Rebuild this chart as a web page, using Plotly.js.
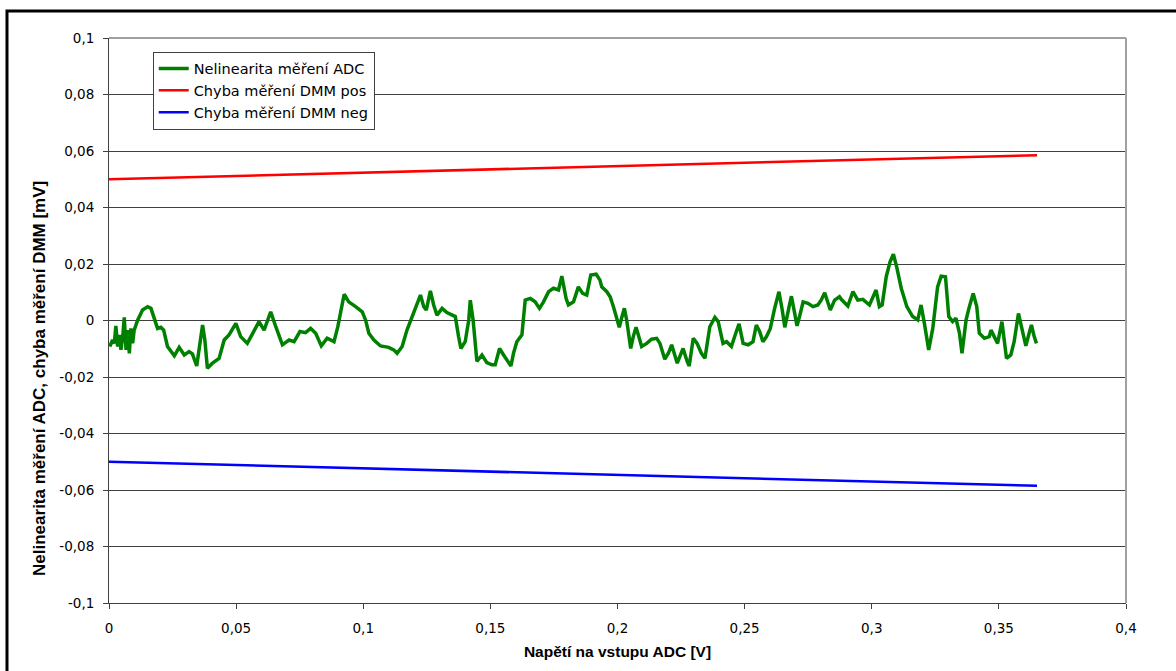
<!DOCTYPE html>
<html>
<head>
<meta charset="utf-8">
<script src="https://cdn.plot.ly/plotly-3.0.1.min.js"></script>
<style>
  html, body { margin: 0; padding: 0; background: #ffffff; }
  #chart { width: 1176px; height: 671px; }
</style>
</head>
<body>
<div id="chart"></div>
<script>
// ---- data ----
const seriesNames = ["Nelinearita měření ADC", "Chyba měření DMM pos", "Chyba měření DMM neg"];

const adcX = [
  0.0003,0.0014,0.0021,0.0027,0.0034,0.0041,0.0047,0.0054,0.0060,0.0067,0.0073,0.0080,0.0086,0.0093,0.0099,0.0113,0.0132,0.0152,0.0165,0.0178,0.0191,0.0204,0.0215,0.0230,0.0257,0.0276,0.0296,0.0315,0.0328,0.0345,0.0361,0.0368,0.0377,0.0387,0.0407,0.0433,0.0453,0.0472,0.0499,0.0518,0.0544,0.0571,0.0590,0.0610,0.0636,0.0656,0.0682,0.0708,0.0728,0.0751,0.0773,0.0793,0.0813,0.0835,0.0858,0.0885,0.0900,0.0925,
  0.0943,0.0970,0.0996,0.1009,0.1022,0.1042,0.1068,0.1100,0.1120,0.1133,0.1153,0.1172,0.1192,0.1212,0.1225,0.1238,0.1248,0.1264,0.1277,0.1290,0.1310,0.1329,0.1349,0.1362,0.1375,0.1384,0.1401,0.1415,0.1421,0.1432,0.1447,0.1467,0.1486,0.1506,0.1519,0.1536,0.1552,0.1565,0.1581,0.1591,0.1604,0.1624,0.1637,0.1657,0.1676,0.1693,0.1709,0.1729,0.1748,0.1768,0.1781,0.1798,0.1807,0.1827,0.1846,0.1863,0.1879,0.1895,0.1916,0.1931,
  0.1938,0.1958,0.1971,0.1984,0.1997,0.2007,0.2016,0.2027,0.2036,0.2052,0.2062,0.2073,0.2082,0.2095,0.2115,0.2134,0.2154,0.2167,0.2186,0.2200,0.2213,0.2226,0.2235,0.2245,0.2258,0.2274,0.2282,0.2298,0.2313,0.2330,0.2344,0.2363,0.2383,0.2396,0.2415,0.2429,0.2448,0.2465,0.2478,0.2494,0.2514,0.2533,0.2546,0.2559,0.2572,0.2586,0.2601,0.2618,0.2635,0.2648,0.2658,0.2675,0.2684,0.2697,0.2706,0.2716,0.2730,0.2749,0.2769,0.2788,0.2801,0.2815,0.2828,0.2837,0.2854,0.2873,
  0.2880,0.2906,0.2926,0.2945,0.2965,0.2991,0.3017,0.3030,0.3041,0.3057,0.3072,0.3085,0.3098,0.3116,0.3138,0.3161,0.3181,0.3194,0.3207,0.3224,0.3240,0.3259,0.3273,0.3290,0.3303,0.3318,0.3331,0.3345,0.3355,0.3371,0.3384,0.3399,0.3413,0.3423,0.3443,0.3462,0.3469,0.3486,0.3495,0.3512,0.3521,0.3530,0.3547,0.3560,0.3577,0.3593,0.3606,0.3619,0.3628,0.3639,0.3648
];
const adcY = [
  -0.0092,-0.0069,-0.0081,-0.0019,-0.0092,-0.0051,-0.0104,-0.0057,0.0011,-0.0104,-0.0034,-0.0116,-0.0028,-0.0081,-0.0034,0.0002,0.0037,0.0049,0.0043,0.0008,-0.0028,-0.0024,-0.0034,-0.0092,-0.0125,-0.0095,-0.0122,-0.0110,-0.0118,-0.0161,-0.0057,-0.0016,-0.0069,-0.0169,-0.0151,-0.0134,-0.0069,-0.0051,-0.0010,-0.0057,-0.0081,-0.0034,-0.0004,-0.0034,0.0031,-0.0022,-0.0086,-0.0069,-0.0075,-0.0039,-0.0043,-0.0028,-0.0045,-0.0090,-0.0063,-0.0075,-0.0022,0.0093,
  0.0066,0.0049,0.0031,0.0002,-0.0045,-0.0069,-0.0090,-0.0095,-0.0104,-0.0116,-0.0092,-0.0034,0.0014,0.0066,0.0090,0.0049,0.0037,0.0105,0.0055,0.0019,0.0043,0.0028,0.0019,0.0014,-0.0057,-0.0099,-0.0075,0.0002,0.0072,0.0002,-0.0145,-0.0122,-0.0149,-0.0157,-0.0157,-0.0099,-0.0122,-0.0142,-0.0161,-0.0116,-0.0075,-0.0051,0.0072,0.0078,0.0066,0.0043,0.0066,0.0102,0.0114,0.0108,0.0157,0.0078,0.0055,0.0066,0.0119,0.0096,0.0090,0.0161,0.0164,0.0143,
  0.0119,0.0102,0.0084,0.0049,0.0008,-0.0024,0.0008,0.0043,0.0002,-0.0099,-0.0057,-0.0024,-0.0051,-0.0092,-0.0081,-0.0066,-0.0063,-0.0081,-0.0137,-0.0116,-0.0086,-0.0122,-0.0151,-0.0128,-0.0099,-0.0145,-0.0161,-0.0063,-0.0081,-0.0116,-0.0134,-0.0022,0.0011,-0.0004,-0.0081,-0.0075,-0.0092,-0.0045,-0.0012,-0.0081,-0.0086,-0.0075,-0.0016,-0.0039,-0.0075,-0.0057,-0.0028,0.0043,0.0102,0.0037,-0.0024,0.0049,0.0086,0.0025,-0.0019,0.0014,0.0066,0.0061,0.0049,0.0055,0.0072,0.0098,0.0061,0.0037,0.0072,0.0084,
  0.0075,0.0051,0.0102,0.0072,0.0075,0.0055,0.0108,0.0049,0.0055,0.0155,0.0208,0.0235,0.0190,0.0114,0.0049,0.0014,0.0002,0.0055,-0.0010,-0.0104,-0.0028,0.0119,0.0157,0.0155,0.0014,-0.0004,0.0008,-0.0045,-0.0116,0.0002,0.0049,0.0096,0.0049,-0.0045,-0.0063,-0.0057,-0.0034,-0.0069,-0.0081,-0.0004,-0.0063,-0.0134,-0.0122,-0.0075,0.0025,-0.0034,-0.0090,-0.0045,-0.0016,-0.0057,-0.0081
];

const dmmX = [0, 0.1, 0.2, 0.3, 0.365];
const dmmPosY = [0.0500, 0.0523, 0.0548, 0.0571, 0.0585];
const dmmNegY = [-0.0500, -0.0523, -0.0548, -0.0571, -0.0585];

const xTickVals = [0, 0.05, 0.1, 0.15, 0.2, 0.25, 0.3, 0.35, 0.4];
const xTickText = ["0", "0,05", "0,1", "0,15", "0,2", "0,25", "0,3", "0,35", "0,4"];
const yTickVals = [-0.1, -0.08, -0.06, -0.04, -0.02, 0, 0.02, 0.04, 0.06, 0.08, 0.1];
const yTickText = ["-0,1", "-0,08", "-0,06", "-0,04", "-0,02", "0", "0,02", "0,04", "0,06", "0,08", "0,1"];

const xTitle = "Napětí na vstupu ADC [V]";
const yTitle = "Nelinearita měření ADC, chyba měření DMM [mV]";

// ---- chart ----
const tickFont = { family: "DejaVu Sans, Liberation Sans, Arial, sans-serif", size: 13.5, color: "#000000" };
const xTitleFont = { family: "Liberation Sans, Arial, sans-serif", size: 15.5, color: "#000000", weight: "bold" };
const yTitleFont = { family: "Liberation Sans, Arial, sans-serif", size: 17, color: "#000000", weight: "bold" };

const traces = [
  { x: adcX, y: adcY, name: seriesNames[0], type: "scatter", mode: "lines",
    line: { color: "#008000", width: 3.5 } },
  { x: dmmX, y: dmmPosY, name: seriesNames[1], type: "scatter", mode: "lines",
    line: { color: "#ff0000", width: 2.5 } },
  { x: dmmX, y: dmmNegY, name: seriesNames[2], type: "scatter", mode: "lines",
    line: { color: "#0000ff", width: 2.5 } }
];

const layout = {
  width: 1176, height: 671,
  margin: { l: 109, r: 50, t: 38, b: 68 },
  paper_bgcolor: "#ffffff",
  plot_bgcolor: "#ffffff",
  showlegend: true,
  legend: {
    x: 0.043, y: 0.976, xanchor: "left", yanchor: "top",
    bgcolor: "#ffffff", bordercolor: "#404040", borderwidth: 1,
    font: { family: "DejaVu Sans, Liberation Sans, Arial, sans-serif", size: 14.5, color: "#000000" },
    tracegroupgap: 0
  },
  xaxis: {
    range: [0, 0.4], tickvals: xTickVals, ticktext: xTickText,
    showgrid: false, zeroline: false,
    showline: true, linecolor: "#404040", linewidth: 1,
    ticks: "outside", ticklen: 5, tickcolor: "#404040",
    tickfont: tickFont, ticklabelstandoff: 8,
    title: { text: xTitle, font: xTitleFont, standoff: 10 }
  },
  yaxis: {
    range: [-0.1, 0.1], tickvals: yTickVals, ticktext: yTickText,
    showgrid: true, gridcolor: "#404040", gridwidth: 1, zeroline: false,
    showline: true, linecolor: "#404040", linewidth: 1,
    ticks: "outside", ticklen: 5, tickcolor: "#404040",
    tickfont: tickFont, ticklabelstandoff: 6
  },
  annotations: [
    { text: yTitle, textangle: -90, xref: "paper", yref: "paper",
      x: -0.069, y: 0.398, xanchor: "center", yanchor: "middle",
      showarrow: false, font: yTitleFont }
  ],
  shapes: [
    { type: "line", xref: "paper", yref: "paper", x0: 0, x1: 1, y0: 1, y1: 1,
      line: { color: "#a0a0a0", width: 2 }, layer: "above" },
    { type: "line", xref: "paper", yref: "paper", x0: 1, x1: 1, y0: 0, y1: 1,
      line: { color: "#a0a0a0", width: 2 }, layer: "above" },
    { type: "rect", xref: "paper", yref: "paper", x0: -0.1003, x1: 1.2, y0: -0.3, y1: 1.0478,
      line: { color: "#000000", width: 3 }, layer: "below" }
  ]
};

Plotly.newPlot("chart", traces, layout, { displayModeBar: false, staticPlot: true });
</script>
</body>
</html>
